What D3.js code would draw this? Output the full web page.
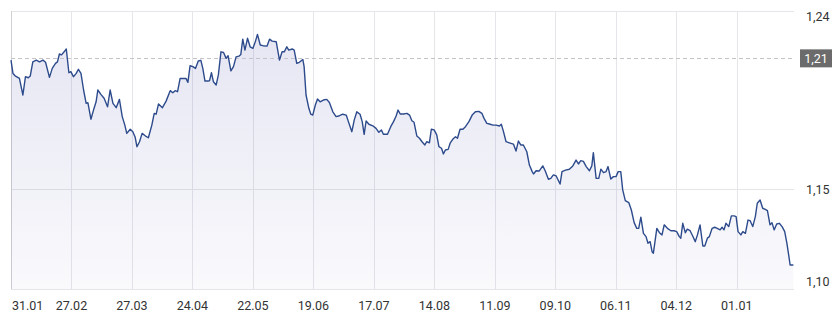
<html>
<script src="https://d3js.org/d3.v7.min.js"></script>
<style>
    body {
        margin: 0;
        background: #ffffff;
    }

    text {
        font-family: Roboto, "Noto Sans", sans-serif;
    }
</style>

<body>
    <svg id="chart"></svg>
    <script>
        // day offsets from 30.01.2025 and the rate read for each
        var days = [0, 0.9, 1.9, 3.9, 5.5, 6.7, 8.0, 8.9, 10.1, 11.7, 13.2, 14.8, 16.0, 17.8, 19.1, 20.6, 21.5, 22.4, 23.4, 24.6,
            25.6, 26.8, 27.7, 28.9, 30.2, 31.2, 32.4, 33.6, 34.8, 35.6, 37.0, 38.2, 39.4, 40.2, 41.6, 43.1, 44.7, 45.9, 47.2, 48.7,
            50.2, 51.5, 52.7, 53.6, 55.2, 56.4, 57.5, 58.3, 59.5, 60.7, 62.3, 63.6, 65.2, 66.3, 67.2, 68.3, 70.1, 71.8, 73.7, 74.9,
            76.0, 77.1, 78.3, 79.8, 81.0, 81.9, 82.9, 84.2, 85.4, 86.7, 87.9, 88.8, 89.8, 91.0, 91.9, 92.8, 93.7, 95.0, 96.0, 97.2,
            98.4, 99.6, 100.5, 101.8, 103.0, 104.2, 105.5, 106.4, 107.3, 108.3, 109.5, 110.7, 112.0, 113.2, 114.1, 115.4, 116.6, 118.5, 119.7, 120.9,
            122.8, 124.3, 125.5, 126.5, 127.7, 128.6, 130.2, 131.1, 132.3, 133.5, 135.1, 135.7, 136.6, 137.9, 138.8, 139.7, 140.9, 141.9, 143.1, 144.6,
            146.2, 147.4, 149.0, 150.5, 152.1, 153.6, 155.2, 156.2, 157.8, 158.9, 160.1, 161.6, 162.6, 163.5, 164.4, 165.7, 167.5, 169.0, 170.3, 171.5,
            172.4, 174.3, 175.8, 177.1, 178.3, 179.2, 180.2, 181.7, 183.3, 184.5, 185.6, 186.6, 187.9, 189.1, 190.3, 191.6, 192.5, 193.7, 194.6, 195.9,
            197.1, 198.1, 199.3, 200.2, 201.1, 202.4, 203.3, 204.5, 205.8, 206.7, 207.9, 209.2, 210.4, 212.0, 213.5, 215.0, 216.6, 218.0, 219.0, 220.3,
            221.5, 223.1, 224.6, 226.1, 227.0, 228.0, 229.2, 230.7, 232.6, 233.8, 234.9, 236.0, 237.2, 238.8, 240.0, 241.3, 241.9, 243.1, 244.6, 246.2,
            247.3, 248.8, 249.9, 251.1, 252.4, 254.2, 255.1, 256.7, 258.5, 260.1, 261.6, 262.7, 263.8, 265.0, 266.3, 267.8, 268.9, 269.6, 270.9, 272.1,
            273.1, 274.3, 275.5, 276.4, 277.7, 278.9, 280.1, 281.1, 282.3, 283.2, 284.4, 286.0, 287.2, 288.5, 289.7, 290.6, 291.6, 292.8, 294.0, 294.9,
            295.9, 296.8, 297.4, 299.0, 300.2, 301.4, 302.4, 303.9, 305.5, 307.0, 308.2, 309.4, 310.1, 311.0, 312.2, 313.1, 314.4, 315.6, 316.8, 317.8,
            319.0, 320.3, 321.2, 322.4, 323.3, 324.6, 325.8, 327.0, 328.3, 329.2, 330.1, 331.0, 332.3, 333.5, 334.8, 335.7, 336.6, 337.9, 338.8, 340.0,
            341.2, 342.2, 343.4, 344.6, 345.5, 346.8, 348.0, 349.2, 350.2, 351.4, 352.3, 353.3, 354.5, 355.7, 357.0, 358.2, 359.2, 360.1, 360.7, 362.2];

        var rates = [1.2092, 1.2031, 1.2020, 1.2008, 1.1932, 1.2016, 1.2011, 1.2019, 1.2084, 1.2092, 1.2084, 1.2092, 1.2082, 1.2013, 1.2054, 1.2077, 1.2084, 1.2120, 1.2116, 1.2130,
            1.2143, 1.2034, 1.2039, 1.2016, 1.2031, 1.2050, 1.2031, 1.1955, 1.1894, 1.1897, 1.1821, 1.1863, 1.1901, 1.1955, 1.1935, 1.1917, 1.1878, 1.1955, 1.1894, 1.1874,
            1.1912, 1.1833, 1.1794, 1.1756, 1.1775, 1.1764, 1.1738, 1.1695, 1.1718, 1.1756, 1.1744, 1.1736, 1.1794, 1.1848, 1.1844, 1.1891, 1.1874, 1.1904, 1.1952, 1.1942,
            1.1952, 1.1947, 1.2008, 1.2008, 1.2008, 1.1990, 1.2066, 1.2062, 1.2054, 1.2088, 1.2091, 1.2054, 1.1996, 1.1996, 1.1997, 1.2034, 1.1993, 1.1978, 1.2024, 1.2130,
            1.2127, 1.2100, 1.2112, 1.2043, 1.2062, 1.2107, 1.2110, 1.2118, 1.2188, 1.2138, 1.2192, 1.2153, 1.2146, 1.2179, 1.2210, 1.2161, 1.2158, 1.2156, 1.2188, 1.2179,
            1.2176, 1.2092, 1.2130, 1.2130, 1.2153, 1.2138, 1.2143, 1.2138, 1.2077, 1.2082, 1.2095, 1.2062, 1.1932, 1.1871, 1.1844, 1.1840, 1.1886, 1.1914, 1.1901, 1.1909,
            1.1912, 1.1898, 1.1855, 1.1833, 1.1837, 1.1844, 1.1840, 1.1810, 1.1764, 1.1817, 1.1855, 1.1844, 1.1810, 1.1752, 1.1813, 1.1798, 1.1791, 1.1779, 1.1761, 1.1772,
            1.1752, 1.1752, 1.1787, 1.1810, 1.1836, 1.1863, 1.1845, 1.1845, 1.1848, 1.1840, 1.1814, 1.1807, 1.1744, 1.1734, 1.1718, 1.1703, 1.1718, 1.1713, 1.1775, 1.1772,
            1.1749, 1.1695, 1.1688, 1.1662, 1.1680, 1.1683, 1.1711, 1.1729, 1.1741, 1.1734, 1.1775, 1.1775, 1.1787, 1.1810, 1.1840, 1.1855, 1.1857, 1.1848, 1.1825, 1.1802,
            1.1799, 1.1794, 1.1794, 1.1790, 1.1798, 1.1764, 1.1718, 1.1713, 1.1707, 1.1675, 1.1721, 1.1703, 1.1703, 1.1672, 1.1611, 1.1581, 1.1570, 1.1585, 1.1584, 1.1607,
            1.1585, 1.1546, 1.1550, 1.1566, 1.1561, 1.1524, 1.1581, 1.1588, 1.1592, 1.1607, 1.1634, 1.1616, 1.1631, 1.1628, 1.1604, 1.1585, 1.1607, 1.1668, 1.1550, 1.1550,
            1.1592, 1.1576, 1.1581, 1.1604, 1.1547, 1.1558, 1.1558, 1.1581, 1.1581, 1.1497, 1.1448, 1.1439, 1.1405, 1.1347, 1.1321, 1.1321, 1.1372, 1.1298, 1.1283, 1.1253,
            1.1260, 1.1214, 1.1207, 1.1321, 1.1301, 1.1291, 1.1337, 1.1321, 1.1310, 1.1310, 1.1306, 1.1283, 1.1276, 1.1344, 1.1301, 1.1317, 1.1310, 1.1286, 1.1260, 1.1291,
            1.1337, 1.1240, 1.1240, 1.1276, 1.1283, 1.1321, 1.1326, 1.1321, 1.1314, 1.1326, 1.1314, 1.1344, 1.1329, 1.1378, 1.1378, 1.1375, 1.1306, 1.1291, 1.1306, 1.1298,
            1.1359, 1.1356, 1.1329, 1.1375, 1.1436, 1.1451, 1.1413, 1.1408, 1.1402, 1.1337, 1.1347, 1.1314, 1.1341, 1.1344, 1.1329, 1.1306, 1.1253, 1.1195, 1.1153, 1.1153];

        var xTickDates = ["2025-01-31", "2025-02-27", "2025-03-27", "2025-04-24", "2025-05-22", "2025-06-19", "2025-07-17",
            "2025-08-14", "2025-09-11", "2025-10-09", "2025-11-06", "2025-12-04", "2026-01-01"];

        var yTickValues = [1.1043, 1.15, 1.2317];
        var yTickLabels = ["1,10", "1,15", "1,24"];
        var refValue = 1.21;
        var refLabel = "1,21";

        var margin = { top: 11, right: 46, bottom: 34, left: 11 },
            width = 840 - margin.left - margin.right,
            height = 323 - margin.top - margin.bottom;

        var svgRoot = d3.select("#chart")
            .attr("width", 840)
            .attr("height", 323);

        var svg = svgRoot.append("g")
            .attr("transform", "translate(" + margin.left + "," + margin.top + ")");

        var parseDay = d3.timeParse("%Y-%m-%d");
        var start = new Date(2025, 0, 30);
        var end = new Date(start.getTime() + 362.5 * 864e5);

        var data = days.map(function (d, i) {
            return { date: new Date(start.getTime() + d * 864e5), value: rates[i] };
        });

        var x = d3.scaleTime()
            .domain([start, end])
            .range([0, width]);

        var y = d3.scaleLinear()
            .domain([yTickValues[0], yTickValues[2]])
            .range([height, 0]);

        // gradient under the line
        var defs = svgRoot.append("defs");
        var grad = defs.append("linearGradient")
            .attr("id", "fillGrad")
            .attr("x1", 0).attr("y1", 0).attr("x2", 0).attr("y2", 1);
        grad.append("stop").attr("offset", "0%").attr("stop-color", "#4a4fa8").attr("stop-opacity", 0.14);
        grad.append("stop").attr("offset", "100%").attr("stop-color", "#4a4fa8").attr("stop-opacity", 0.03);

        // horizontal grid lines
        svg.append("g")
            .selectAll("line")
            .data(yTickValues)
            .enter()
            .append("line")
            .attr("x1", 0)
            .attr("x2", width)
            .attr("y1", function (d) { return Math.round(y(d)) + 0.5; })
            .attr("y2", function (d) { return Math.round(y(d)) + 0.5; })
            .attr("stroke", "#e6e6ea")
            .attr("stroke-width", 1);

        // vertical grid lines (first tick sits on the frame)
        var tickDates = xTickDates.map(parseDay);
        svg.append("g")
            .selectAll("line")
            .data(tickDates.slice(1))
            .enter()
            .append("line")
            .attr("x1", function (d) { return Math.round(x(d)) + 0.5; })
            .attr("x2", function (d) { return Math.round(x(d)) + 0.5; })
            .attr("y1", 0)
            .attr("y2", height)
            .attr("stroke", "#e6e6ea")
            .attr("stroke-width", 1);

        // left frame
        svg.append("line")
            .attr("x1", 0.5).attr("x2", 0.5)
            .attr("y1", 0).attr("y2", height)
            .attr("stroke", "#cfcfd4");

        // area + line
        svg.append("path")
            .datum(data)
            .attr("fill", "url(#fillGrad)")
            .attr("d", d3.area()
                .x(function (d) { return x(d.date); })
                .y0(height)
                .y1(function (d) { return y(d.value); })
            );

        // reference line
        svg.append("line")
            .attr("x1", 0)
            .attr("x2", width)
            .attr("y1", Math.round(y(refValue)) + 0.5)
            .attr("y2", Math.round(y(refValue)) + 0.5)
            .attr("stroke", "#c4c4c8")
            .attr("stroke-dasharray", "4,3");

        svg.append("path")
            .datum(data)
            .attr("fill", "none")
            .attr("stroke", "#2d4b8c")
            .attr("stroke-width", 1.4)
            .attr("stroke-linejoin", "round")
            .attr("d", d3.line()
                .x(function (d) { return x(d.date); })
                .y(function (d) { return y(d.value); })
            );

        // x labels
        var fmt = d3.timeFormat("%d.%m");
        svg.append("g")
            .selectAll("text")
            .data(tickDates)
            .enter()
            .append("text")
            .attr("x", function (d, i) { return i == 0 ? 1 : x(d); })
            .attr("y", height + 21)
            .attr("text-anchor", function (d, i) { return i == 0 ? "start" : "middle"; })
            .attr("font-size", "12.5px")
            .attr("fill", "#333333")
            .text(function (d) { return fmt(d); });

        // y labels on the right
        var yLabelOffset = [-7, 0, 6];
        svg.append("g")
            .selectAll("text")
            .data(yTickValues)
            .enter()
            .append("text")
            .attr("x", width + 12)
            .attr("y", function (d, i) { return y(d) + yLabelOffset[i]; })
            .attr("dy", "0.35em")
            .attr("font-size", "12.5px")
            .attr("fill", "#333333")
            .text(function (d, i) { return yTickLabels[i]; });

        // reference value tag
        var refY = y(refValue);
        svg.append("rect")
            .attr("x", width + 6)
            .attr("y", refY - 9)
            .attr("width", 32)
            .attr("height", 18)
            .attr("fill", "#6b6b6b");

        svg.append("text")
            .attr("x", width + 22)
            .attr("y", refY)
            .attr("dy", "0.35em")
            .attr("text-anchor", "middle")
            .attr("font-size", "12.5px")
            .attr("fill", "#ffffff")
            .text(refLabel);
    </script>
</body>

</html>
